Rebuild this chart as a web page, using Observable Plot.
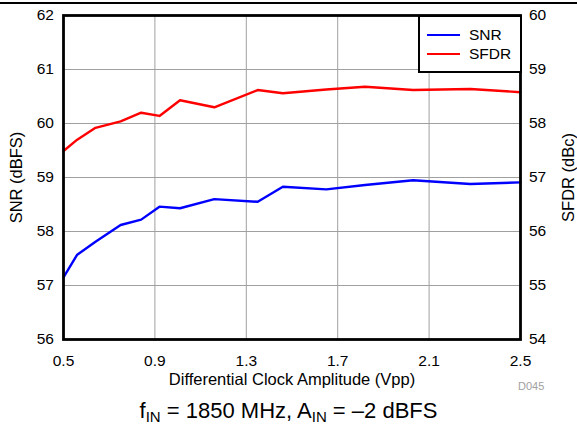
<!DOCTYPE html>
<html>
<head>
<meta charset="utf-8">
<script src="https://cdn.jsdelivr.net/npm/d3@7"></script>
<script src="https://cdn.jsdelivr.net/npm/@observablehq/plot@0.6"></script>
<style>
  html, body { margin: 0; padding: 0; background: #fff; }
  body { width: 577px; height: 424px; position: relative; overflow: hidden; font-family: "Liberation Sans", Arial, sans-serif; }
  #topline { position: absolute; left: 0; top: 2px; width: 577px; height: 1.5px; background: #000; }
  #legend { position: absolute; left: 418px; top: 15px; width: 100px; height: 54px; border: 2px solid #000; background: #fff; }
  .li { position: absolute; left: 7px; height: 18px; font-size: 15.5px; line-height: 18px; }
  .li span.sw { position: absolute; left: 0; top: 8px; width: 33px; height: 2.2px; }
  .li span.tx { position: absolute; left: 42px; top: 0; white-space: nowrap; }
  #caption { position: absolute; left: 0; top: 399px; width: 577px; height: 24px; text-align: center; font-size: 22px; line-height: 24px; white-space: nowrap; }
  #caption sub { font-size: 15px; vertical-align: -4px; line-height: 0; }
  #code { position: absolute; left: 518px; top: 380px; font-size: 11px; color: #a0a0a0; }
</style>
</head>
<body>
<div id="topline"></div>
<div id="chart"></div>
<div id="legend"></div>
<div id="code">D045</div>
<div id="caption">f<sub>IN</sub> = 1850 MHz, A<sub>IN</sub> = –2 dBFS</div>
<script>
const clockVpp = [0.5, 0.56, 0.64, 0.75, 0.84, 0.92, 1.01, 1.16, 1.35, 1.46, 1.65, 1.82, 2.03, 2.28, 2.5];
const snr      = [57.15, 57.57, 57.81, 58.12, 58.22, 58.46, 58.43, 58.60, 58.55, 58.83, 58.78, 58.86, 58.95, 58.88, 58.91];
const sfdr     = [57.49, 57.70, 57.92, 58.04, 58.20, 58.14, 58.43, 58.30, 58.62, 58.56, 58.63, 58.68, 58.62, 58.64, 58.58];
const xTicks = [0.5, 0.9, 1.3, 1.7, 2.1, 2.5];
const leftTicks = [56, 57, 58, 59, 60, 61, 62];
const rightTicks = [54, 55, 56, 57, 58, 59, 60];
const xLabel = "Differential Clock Amplitude (Vpp)";
const leftLabel = "SNR (dBFS)";
const rightLabel = "SFDR (dBc)";
const series = [
  { name: "SNR", color: "#0000ff" },
  { name: "SFDR", color: "#ff0000" }
];
const offset = 2; // SFDR axis (54-60) drawn on SNR axis (56-62)

const snrData = clockVpp.map((x, i) => ({ x, y: snr[i] }));
const sfdrData = clockVpp.map((x, i) => ({ x, y: sfdr[i] + offset }));

const chart = Plot.plot({
  width: 577,
  height: 395,
  marginLeft: 63,
  marginRight: 57,
  marginTop: 15,
  marginBottom: 56,
  style: { fontFamily: "Liberation Sans, Arial, sans-serif", fontSize: "15.5px", color: "#000", background: "transparent", overflow: "visible" },
  x: { domain: [0.5, 2.5] },
  y: { domain: [56, 62] },
  marks: [
    Plot.gridY(leftTicks.slice(1, -1), { stroke: "#a0a0a0", strokeOpacity: 1, strokeWidth: 1 }),
    Plot.gridX(xTicks.slice(1, -1), { stroke: "#a0a0a0", strokeOpacity: 1, strokeWidth: 1 }),
    Plot.axisX(xTicks, { tickSize: 0, tickPadding: 15, tickFormat: d => d.toFixed(1), fontSize: 15.5, label: null }),
    Plot.axisY(leftTicks, { anchor: "left", tickSize: 0, tickPadding: 9.5, fontSize: 15.5, tickFormat: d3.format("d"), label: null }),
    Plot.axisY(rightTicks.map(d => d + offset), { anchor: "right", tickSize: 0, tickPadding: 8.5, fontSize: 15.5, tickFormat: d => String(d - offset), label: null }),
    Plot.text([xLabel], { text: d => d, frameAnchor: "bottom", dy: 40, lineAnchor: "middle", textAnchor: "middle", fontSize: 16.5, fill: "#000" }),
    Plot.text([leftLabel], { text: d => d, frameAnchor: "left", dx: -47, rotate: -90, lineAnchor: "middle", textAnchor: "middle", fontSize: 16.5, fill: "#000" }),
    Plot.text([rightLabel], { text: d => d, frameAnchor: "right", dx: 48, rotate: -90, lineAnchor: "middle", textAnchor: "middle", fontSize: 16.5, fill: "#000" }),
    Plot.line(sfdrData, { x: "x", y: "y", stroke: series[1].color, strokeWidth: 2.4 }),
    Plot.line(snrData, { x: "x", y: "y", stroke: series[0].color, strokeWidth: 2.4 }),
    Plot.frame({ stroke: "#000", strokeWidth: 2.8 })
  ]
});
document.getElementById("chart").appendChild(chart);

const legend = document.getElementById("legend");
series.forEach((s, i) => {
  const row = document.createElement("div");
  row.className = "li";
  row.style.top = (9 + i * 18.5) + "px";
  row.innerHTML = `<span class="sw" style="background:${s.color}"></span><span class="tx">${s.name}</span>`;
  legend.appendChild(row);
});
</script>
</body>
</html>
